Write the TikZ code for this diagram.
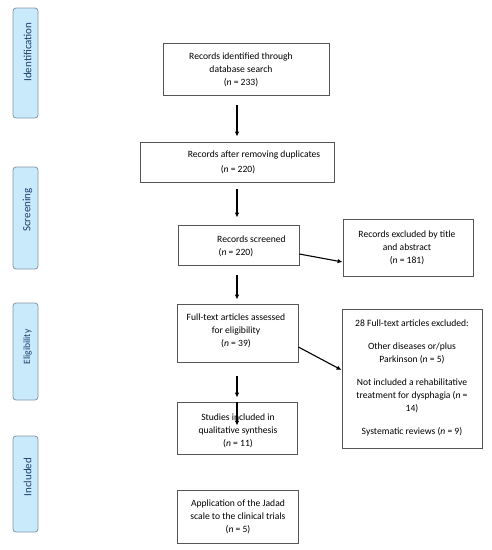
\documentclass[tikz,border=0pt]{standalone}
\usepackage{fontspec}
\setmainfont{Carlito}
\usetikzlibrary{arrows.meta,calc}
\definecolor{sidefill}{HTML}{C8EAFB}
\definecolor{sideline}{HTML}{8595A5}
\definecolor{sidetext}{HTML}{1B3F6E}
\definecolor{boxline}{HTML}{555555}
\begin{document}
\begin{tikzpicture}[x=1pt,y=-1pt,
  sidebox/.style={draw=sideline,fill=sidefill,rounded corners=3pt,line width=0.8pt,minimum width=25pt,inner sep=0pt},
  sidelabel/.style={rotate=90,text=sidetext,inner sep=0pt},
  flowbox/.style={draw=boxline,line width=0.8pt,inner sep=0pt},
  txt/.style={font=\fontsize{9.6}{13}\selectfont,align=center,inner sep=0pt},
  arr/.style={line width=1.1pt,-{Latex[length=5pt,width=4.5pt]}}]
\useasboundingbox (0,0) rectangle (492,550);
% side bars
\node[sidebox,minimum height=110pt] (s1) at (25.5,63) {};
\node[sidebox,minimum height=102pt] (s2) at (25.5,218) {};
\node[sidebox,minimum height=97pt] (s3) at (25.5,351.5) {};
\node[sidebox,minimum height=96pt] (s4) at (25.5,484) {};
\node[sidelabel,font=\fontsize{11}{13}\selectfont] (l1) at (27.5,52) {Identification};
\node[sidelabel,font=\fontsize{11}{13}\selectfont] (l2) at (27.5,210) {Screening};
\node[sidelabel,font=\fontsize{9.6}{12}\selectfont] (l3) at (27.5,347) {Eligibility};
\node[sidelabel,font=\fontsize{11}{13}\selectfont] (l4) at (27.5,477) {Included};
% boxes
\node[flowbox,minimum width=166pt,minimum height=52pt] (b1) at (246,69) {};
\node[flowbox,minimum width=194pt,minimum height=40pt] (b2) at (237,162) {};
\node[flowbox,minimum width=121pt,minimum height=40pt] (b3) at (238.5,245) {};
\node[flowbox,minimum width=130pt,minimum height=57pt] (e1) at (408,247.5) {};
\node[flowbox,minimum width=121pt,minimum height=58pt] (b4) at (237.5,333) {};
\node[flowbox,minimum width=140pt,minimum height=139pt] (e2) at (412,378.5) {};
\node[flowbox,minimum width=120pt,minimum height=52pt] (b5) at (237,428) {};
\node[flowbox,minimum width=121pt,minimum height=53pt] (b6) at (237.5,516.5) {};
% texts
\node[txt] (t1) at (241,70) {Records identified through\\database search\\(\textit{n} = 233)};
\node[txt] (t2a) at (254,155) {Records after removing duplicates};
\node[txt] (t2b) at (238,170) {(\textit{n} = 220)};
\node[txt,align=left,anchor=west] (t3) at (217,246) {Records screened\\\hspace*{1.5pt}(\textit{n} = 220)};
\node[txt] (te1) at (407,248) {Records excluded by title\\and abstract\\(\textit{n} = 181)};
\node[txt] (t4) at (236,331) {Full-text articles assessed\\for eligibility\\(\textit{n} = 39)};
\node[txt] (te2) at (412,378) {28 Full-text articles excluded:\\[10pt]Other diseases or/plus\\Parkinson (\textit{n} = 5)\\[10pt]Not included a rehabilitative\\treatment for dysphagia (\textit{n} =\\14)\\[10pt]Systematic reviews (\textit{n} = 9)};
\node[txt] (t5) at (238,431) {Studies included in\\qualitative synthesis\\(\textit{n} = 11)};
\node[txt] (t6) at (238,517) {Application of the Jadad\\scale to the clinical trials\\(\textit{n} = 5)};
% arrows
\coordinate (c1) at (b1.south -| b2.north);
\coordinate (c3) at (b3.south -| b2.north);
\coordinate (c4) at (b4.north -| b2.north);
\coordinate (c5) at (b4.south -| b5.north);
\coordinate (c2) at (b3.north -| b2.south);
\draw[arr,shorten <=10pt,shorten >=5pt] (c1) -- (b2.north);
\draw[arr,shorten <=7pt,shorten >=7pt] (b2.south) -- (c2);
\draw[arr,shorten <=10pt,shorten >=4pt] (c3) -- (c4);
\draw[arr,shorten <=14pt,shorten >=4pt] (c5) -- (b5.north);
\coordinate (b5in) at ($(b5.north)+(0,24)$);
\draw[arr] (b5.north) -- (b5in);
\draw[arr] ($(b3.east)+(0,9)$) -- ($(e1.west)+(0,14.5)$);
\draw[arr] ($(b4.east)+(0,14)$) -- ($(e2.west)+(0,-8.5)$);
\end{tikzpicture}
\end{document}
